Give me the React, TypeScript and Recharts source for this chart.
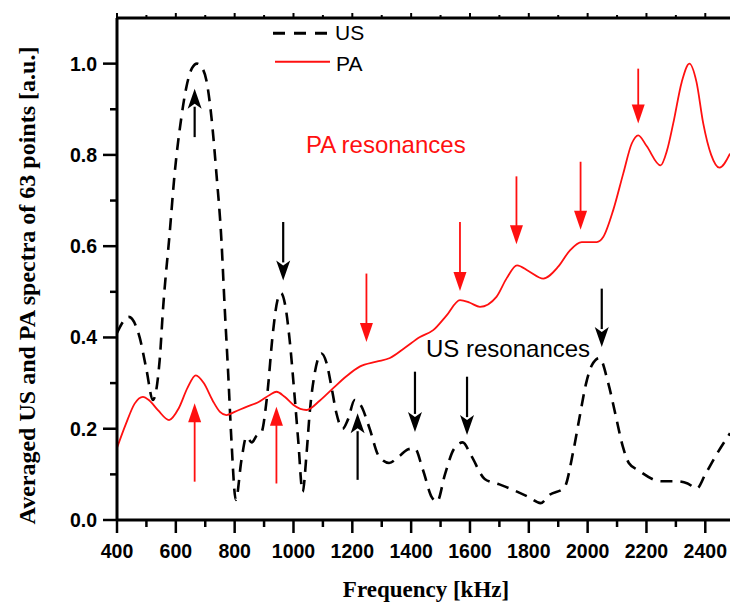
import { LineChart, Line, XAxis, YAxis, ReferenceLine } from "recharts";

// US spectrum (dashed black)
const usFreq = [400, 440, 477, 500, 522, 545, 557, 579, 596, 619, 636, 655, 672, 690, 704, 721, 738, 755, 766, 778, 789, 804, 823, 840, 858, 875, 890, 910, 930, 945, 958, 972, 987, 1004, 1016, 1031, 1045, 1055, 1072, 1095, 1112, 1129, 1146, 1167, 1185, 1208, 1230, 1259, 1290, 1325, 1360, 1390, 1412, 1440, 1470, 1488, 1515, 1545, 1575, 1605, 1650, 1700, 1750, 1800, 1840, 1870, 1920, 1951, 1974, 1995, 2015, 2040, 2070, 2095, 2120, 2140, 2170, 2250, 2300, 2340, 2371, 2400, 2435, 2484];
const usValue = [0.41, 0.445, 0.4, 0.33, 0.263, 0.35, 0.467, 0.628, 0.759, 0.883, 0.949, 0.99, 1.0, 0.99, 0.963, 0.883, 0.759, 0.613, 0.467, 0.321, 0.175, 0.044, 0.131, 0.182, 0.17, 0.185, 0.19, 0.27, 0.41, 0.48, 0.497, 0.47, 0.394, 0.27, 0.175, 0.062, 0.15, 0.234, 0.321, 0.365, 0.345, 0.292, 0.234, 0.2, 0.22, 0.263, 0.25, 0.2, 0.14, 0.125, 0.14, 0.155, 0.157, 0.11, 0.05, 0.04, 0.1, 0.155, 0.17, 0.14, 0.09, 0.078, 0.065, 0.05, 0.037, 0.055, 0.07, 0.15, 0.23, 0.3, 0.34, 0.355, 0.3, 0.23, 0.16, 0.125, 0.11, 0.085, 0.085, 0.08, 0.069, 0.1, 0.14, 0.19];

// PA spectrum (solid red)
const paFreq = [400, 430, 460, 488, 510, 540, 577, 610, 640, 668, 695, 725, 750, 772, 800, 840, 880, 919, 942, 970, 1000, 1044, 1090, 1135, 1180, 1225, 1282, 1328, 1380, 1430, 1475, 1520, 1566, 1600, 1634, 1690, 1725, 1760, 1800, 1849, 1900, 1940, 1980, 2031, 2053, 2087, 2121, 2150, 2172, 2200, 2248, 2270, 2291, 2320, 2346, 2370, 2393, 2420, 2448, 2484];
const paValue = [0.158, 0.21, 0.255, 0.27, 0.262, 0.24, 0.219, 0.245, 0.29, 0.317, 0.3, 0.262, 0.237, 0.23, 0.237, 0.248, 0.258, 0.274, 0.281, 0.27, 0.252, 0.241, 0.262, 0.289, 0.315, 0.336, 0.347, 0.355, 0.378, 0.401, 0.416, 0.448, 0.482, 0.476, 0.467, 0.489, 0.53, 0.558, 0.545, 0.529, 0.555, 0.591, 0.609, 0.609, 0.62, 0.679, 0.759, 0.825, 0.843, 0.82, 0.777, 0.81, 0.869, 0.96, 1.0, 0.96, 0.869, 0.8, 0.772, 0.803];

// resonance arrows: frequency, tail value, tip value
const paArrowFreq = [664, 942, 1248, 1566, 1758, 1976, 2172];
const paArrowTail = [0.084, 0.08, 0.54, 0.653, 0.753, 0.785, 0.989];
const paArrowTip = [0.256, 0.248, 0.39, 0.502, 0.604, 0.636, 0.869];

const usArrowFreq = [664, 965, 1218, 1413, 1590, 2048];
const usArrowTail = [0.839, 0.653, 0.088, 0.325, 0.314, 0.507];
const usArrowTip = [0.945, 0.525, 0.234, 0.193, 0.186, 0.379];

const xTicks = [400, 500, 600, 700, 800, 900, 1000, 1100, 1200, 1300, 1400, 1500, 1600, 1700, 1800, 1900, 2000, 2100, 2200, 2300, 2400];
const yTicks = [0, 0.1, 0.2, 0.3, 0.4, 0.5, 0.6, 0.7, 0.8, 0.9, 1.0];

const usData = usFreq.map((f, i) => ({ f, v: usValue[i] }));
const paData = paFreq.map((f, i) => ({ f, v: paValue[i] }));

const tickFont = { fontFamily: "'Liberation Sans', Arial, sans-serif", fontWeight: 700, fontSize: 19.5 };

const BottomTick = ({ x, y, payload }: any) => {
  const major = payload.value % 200 === 0;
  return (
    <g>
      <line x1={x} x2={x} y1={y} y2={y + (major ? 13 : 7)} stroke="#000" strokeWidth={2.5} />
      {major && (
        <text x={x} y={y + 38} textAnchor="middle" fill="#000" {...tickFont}>
          {payload.value}
        </text>
      )}
    </g>
  );
};

const TopTick = ({ x, y, payload }: any) => {
  const major = payload.value % 200 === 0;
  return <line x1={x} x2={x} y1={y} y2={y - (major ? 5 : 3)} stroke="#000" strokeWidth={2} />;
};

const LeftTick = ({ x, y, payload }: any) => {
  const major = Math.round(payload.value * 10) % 2 === 0;
  return (
    <g>
      <line x1={x - (major ? 14 : 7)} x2={x} y1={y} y2={y} stroke="#000" strokeWidth={2.5} />
      {major && (
        <text x={x - 20} y={y + 7} textAnchor="end" fill="#000" {...tickFont}>
          {payload.value.toFixed(1)}
        </text>
      )}
    </g>
  );
};

const arrow = (color: string, w: number, headW: number, headL: number, notch: number) => (p: any) => {
  const { x1, y1, x2, y2 } = p;
  const d = y2 > y1 ? 1 : -1;
  const by = y2 - d * headL;
  return (
    <g>
      <line x1={x1} y1={y1} x2={x2} y2={by + d * 2} stroke={color} strokeWidth={w} />
      <polygon
        points={`${x2},${y2} ${x2 - headW / 2},${by} ${x2},${by + d * notch} ${x2 + headW / 2},${by}`}
        fill={color}
      />
    </g>
  );
};

const redArrow = arrow("#ff1010", 1.8, 13, 19, 0);
const blackArrow = arrow("#000", 2.2, 14, 20, 5);

export default function App() {
  return (
    <div style={{ position: "absolute", left: 0, top: 0, width: 730, height: 603, overflow: "hidden", background: "#fff" }}>
      <LineChart width={730} height={603} margin={{ top: 0, right: 0, bottom: 0, left: 0 }}>
        <XAxis
          xAxisId="top"
          orientation="top"
          type="number"
          dataKey="f"
          domain={[400, 2484]}
          allowDataOverflow
          ticks={xTicks}
          interval={0}
          height={18}
          tickSize={0}
          tickMargin={0}
          tick={<TopTick />}
          axisLine={{ stroke: "#000", strokeWidth: 3 }}
          tickLine={false}
        />
        <XAxis
          type="number"
          dataKey="f"
          domain={[400, 2484]}
          allowDataOverflow
          ticks={xTicks}
          interval={0}
          height={83}
          tickSize={0}
          tickMargin={0}
          tick={<BottomTick />}
          axisLine={{ stroke: "#000", strokeWidth: 3 }}
          tickLine={false}
        />
        <YAxis
          type="number"
          domain={[0, 1.1]}
          allowDataOverflow
          ticks={yTicks}
          interval={0}
          width={117}
          tickSize={0}
          tickMargin={0}
          tick={<LeftTick />}
          axisLine={{ stroke: "#000", strokeWidth: 3 }}
          tickLine={false}
        />
        <Line
          data={usData}
          dataKey="v"
          type="monotone"
          stroke="#000"
          strokeWidth={2.6}
          strokeDasharray="12 8"
          dot={false}
          activeDot={false}
          isAnimationActive={false}
        />
        <Line
          data={paData}
          dataKey="v"
          type="monotone"
          stroke="#ff1010"
          strokeWidth={1.8}
          dot={false}
          activeDot={false}
          isAnimationActive={false}
        />
        {paArrowFreq.map((f, i) => (
          <ReferenceLine
            key={`pa${i}`}
            segment={[{ x: f, y: paArrowTail[i] }, { x: f, y: paArrowTip[i] }]}
            shape={redArrow}
          />
        ))}
        {usArrowFreq.map((f, i) => (
          <ReferenceLine
            key={`us${i}`}
            segment={[{ x: f, y: usArrowTail[i] }, { x: f, y: usArrowTip[i] }]}
            shape={blackArrow}
          />
        ))}
      </LineChart>
      <svg width={730} height={603} style={{ position: "absolute", left: 0, top: 0, pointerEvents: "none" }}>
        <line x1={273} y1={33.3} x2={330} y2={33.3} stroke="#000" strokeWidth={3} strokeDasharray="12 9" />
        <text x={335} y={40} fontFamily="'Liberation Sans', Arial, sans-serif" fontSize={21} fill="#000">US</text>
        <line x1={275} y1={61.7} x2={330} y2={61.7} stroke="#ff1010" strokeWidth={2} />
        <text x={336} y={70.5} fontFamily="'Liberation Sans', Arial, sans-serif" fontSize={21} fill="#000">PA</text>
        <text x={306} y={153} fontFamily="'Liberation Sans', Arial, sans-serif" fontSize={24} fill="#ff1010">PA resonances</text>
        <text x={426} y={356.7} fontFamily="'Liberation Sans', Arial, sans-serif" fontSize={24} fill="#000">US resonances</text>
        <text x={426} y={597} textAnchor="middle" fontFamily="'Liberation Serif', 'Times New Roman', serif" fontWeight={700} fontSize={23} fill="#000">
          Frequency [kHz]
        </text>
        <text
          x={35}
          y={285.5}
          textAnchor="middle"
          transform="rotate(-90 35 285.5)"
          fontFamily="'Liberation Serif', 'Times New Roman', serif"
          fontWeight={700}
          fontSize={24}
          fill="#000"
        >
          Averaged US and PA spectra of 63 points [a.u.]
        </text>
      </svg>
    </div>
  );
}
